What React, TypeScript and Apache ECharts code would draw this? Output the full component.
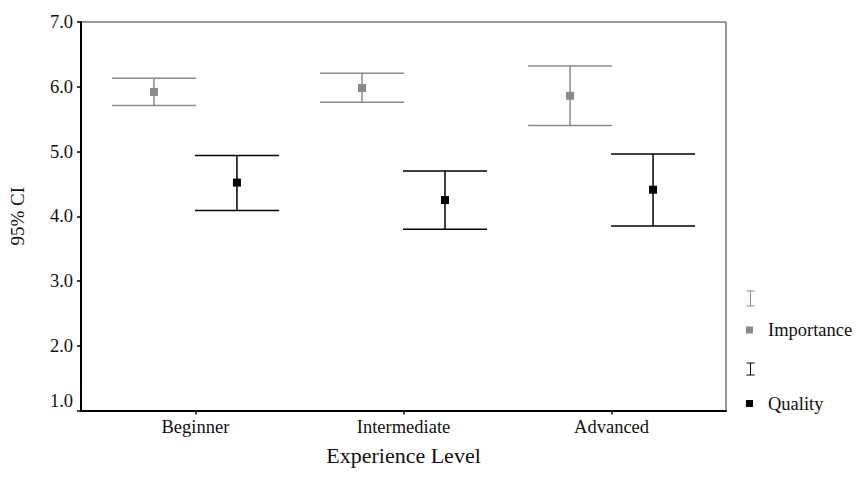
import React, { useEffect, useRef } from "react";
import * as echarts from "echarts";

// Experience levels on the x axis
const categories = ["Beginner", "Intermediate", "Advanced"];

// 95% confidence intervals: mean, lower and upper bound per level
const importanceMean = [5.92, 5.98, 5.86];
const importanceLow = [5.71, 5.76, 5.4];
const importanceHigh = [6.13, 6.21, 6.32];

const qualityMean = [4.52, 4.25, 4.41];
const qualityLow = [4.09, 3.8, 3.85];
const qualityHigh = [4.94, 4.7, 4.96];

const yTickValues = [1, 2, 3, 4, 5, 6, 7];
const categoryPositions = [1, 2, 3];

const FONT = "'Liberation Serif', 'Times New Roman', serif";
const IMPORTANCE_COLOR = "#8a8a8a";
const QUALITY_COLOR = "#000000";
const HALF_CAP = 42;
const DODGE = 41.5;

function errorBarItem(offset: number, color: string) {
  return (params: any, api: any) => {
    const x = api.value(0);
    const pLo = api.coord([x, api.value(1)]);
    const pHi = api.coord([x, api.value(2)]);
    const pMean = api.coord([x, api.value(3)]);
    const cx = pLo[0] + offset;
    const line = { stroke: color, lineWidth: 1.5 };
    const size = 8;
    return {
      type: "group",
      children: [
        { type: "line", shape: { x1: cx, y1: pHi[1], x2: cx, y2: pLo[1] }, style: line },
        { type: "line", shape: { x1: cx - HALF_CAP, y1: pHi[1], x2: cx + HALF_CAP, y2: pHi[1] }, style: line },
        { type: "line", shape: { x1: cx - HALF_CAP, y1: pLo[1], x2: cx + HALF_CAP, y2: pLo[1] }, style: line },
        {
          type: "rect",
          shape: { x: cx - size / 2, y: pMean[1] - size / 2, width: size, height: size },
          style: { fill: color },
        },
      ],
    };
  };
}

function capIcon(cx: number, top: number, bottom: number, color: string) {
  const style = { stroke: color, lineWidth: 1 };
  return {
    type: "group",
    silent: true,
    children: [
      { type: "line", shape: { x1: cx - 4, y1: top, x2: cx + 4, y2: top }, style },
      { type: "line", shape: { x1: cx, y1: top, x2: cx, y2: bottom }, style },
      { type: "line", shape: { x1: cx - 4, y1: bottom, x2: cx + 4, y2: bottom }, style },
    ],
  };
}

export default function App() {
  const ref = useRef<HTMLDivElement>(null);

  useEffect(() => {
    if (!ref.current) return;
    const chart = echarts.init(ref.current, null, { renderer: "svg" });

    const importanceData = categories.map((_, i) => [
      categoryPositions[i],
      importanceLow[i],
      importanceHigh[i],
      importanceMean[i],
    ]);
    const qualityData = categories.map((_, i) => [
      categoryPositions[i],
      qualityLow[i],
      qualityHigh[i],
      qualityMean[i],
    ]);

    chart.setOption({
      animation: false,
      backgroundColor: "#ffffff",
      grid: {
        left: 81,
        right: 133,
        top: 22,
        bottom: 84.5,
        show: true,
        borderColor: "#333",
        borderWidth: 1,
      },
      xAxis: {
        type: "value",
        min: 0.45,
        max: 3.55,
        name: "Experience Level",
        nameLocation: "middle",
        nameGap: 34,
        nameTextStyle: { fontFamily: FONT, fontSize: 22, color: "#111" },
        axisLine: { show: true, lineStyle: { color: "#000", width: 2 } },
        axisTick: {
          show: true,
          length: 4,
          customValues: categoryPositions,
          lineStyle: { color: "#000", width: 1.5 },
        },
        axisLabel: {
          customValues: categoryPositions,
          formatter: (v: number) => categories[Math.round(v) - 1] ?? "",
          fontFamily: FONT,
          fontSize: 18.5,
          color: "#111",
          margin: 7,
        },
        splitLine: { show: false },
      },
      yAxis: {
        type: "value",
        min: 1,
        max: 7,
        interval: 1,
        name: "95% CI",
        nameLocation: "middle",
        nameGap: 54,
        nameTextStyle: { fontFamily: FONT, fontSize: 19, color: "#111" },
        axisLine: { show: true, lineStyle: { color: "#000", width: 2 } },
        axisTick: { show: true, length: 4, lineStyle: { color: "#000", width: 1.5 } },
        axisLabel: {
          customValues: yTickValues,
          formatter: (v: number) => v.toFixed(1),
          fontFamily: FONT,
          fontSize: 18.5,
          color: "#111",
          margin: 8,
          verticalAlignMinLabel: "bottom",
        },
        splitLine: { show: false },
      },
      legend: {
        orient: "vertical",
        left: 741,
        top: 315.5,
        itemGap: 54.5,
        itemWidth: 7,
        itemHeight: 7,
        textStyle: {
          fontFamily: FONT,
          fontSize: 18.5,
          color: "#111",
          padding: [0, 0, 0, 10],
        },
        data: [
          { name: "Importance", icon: "rect" },
          { name: "Quality", icon: "rect" },
        ],
      },
      graphic: [
        capIcon(750.5, 291, 306, IMPORTANCE_COLOR),
        capIcon(750.5, 363, 375, QUALITY_COLOR),
      ],
      series: [
        {
          name: "Importance",
          type: "custom",
          itemStyle: { color: IMPORTANCE_COLOR },
          encode: { x: 0, y: [1, 2, 3] },
          renderItem: errorBarItem(-DODGE, IMPORTANCE_COLOR),
          data: importanceData,
        },
        {
          name: "Quality",
          type: "custom",
          itemStyle: { color: QUALITY_COLOR },
          encode: { x: 0, y: [1, 2, 3] },
          renderItem: errorBarItem(DODGE, QUALITY_COLOR),
          data: qualityData,
        },
      ],
    });

    return () => chart.dispose();
  }, []);

  return (
    <div
      ref={ref}
      style={{ position: "fixed", left: 0, top: 0, width: 859, height: 495 }}
    />
  );
}
